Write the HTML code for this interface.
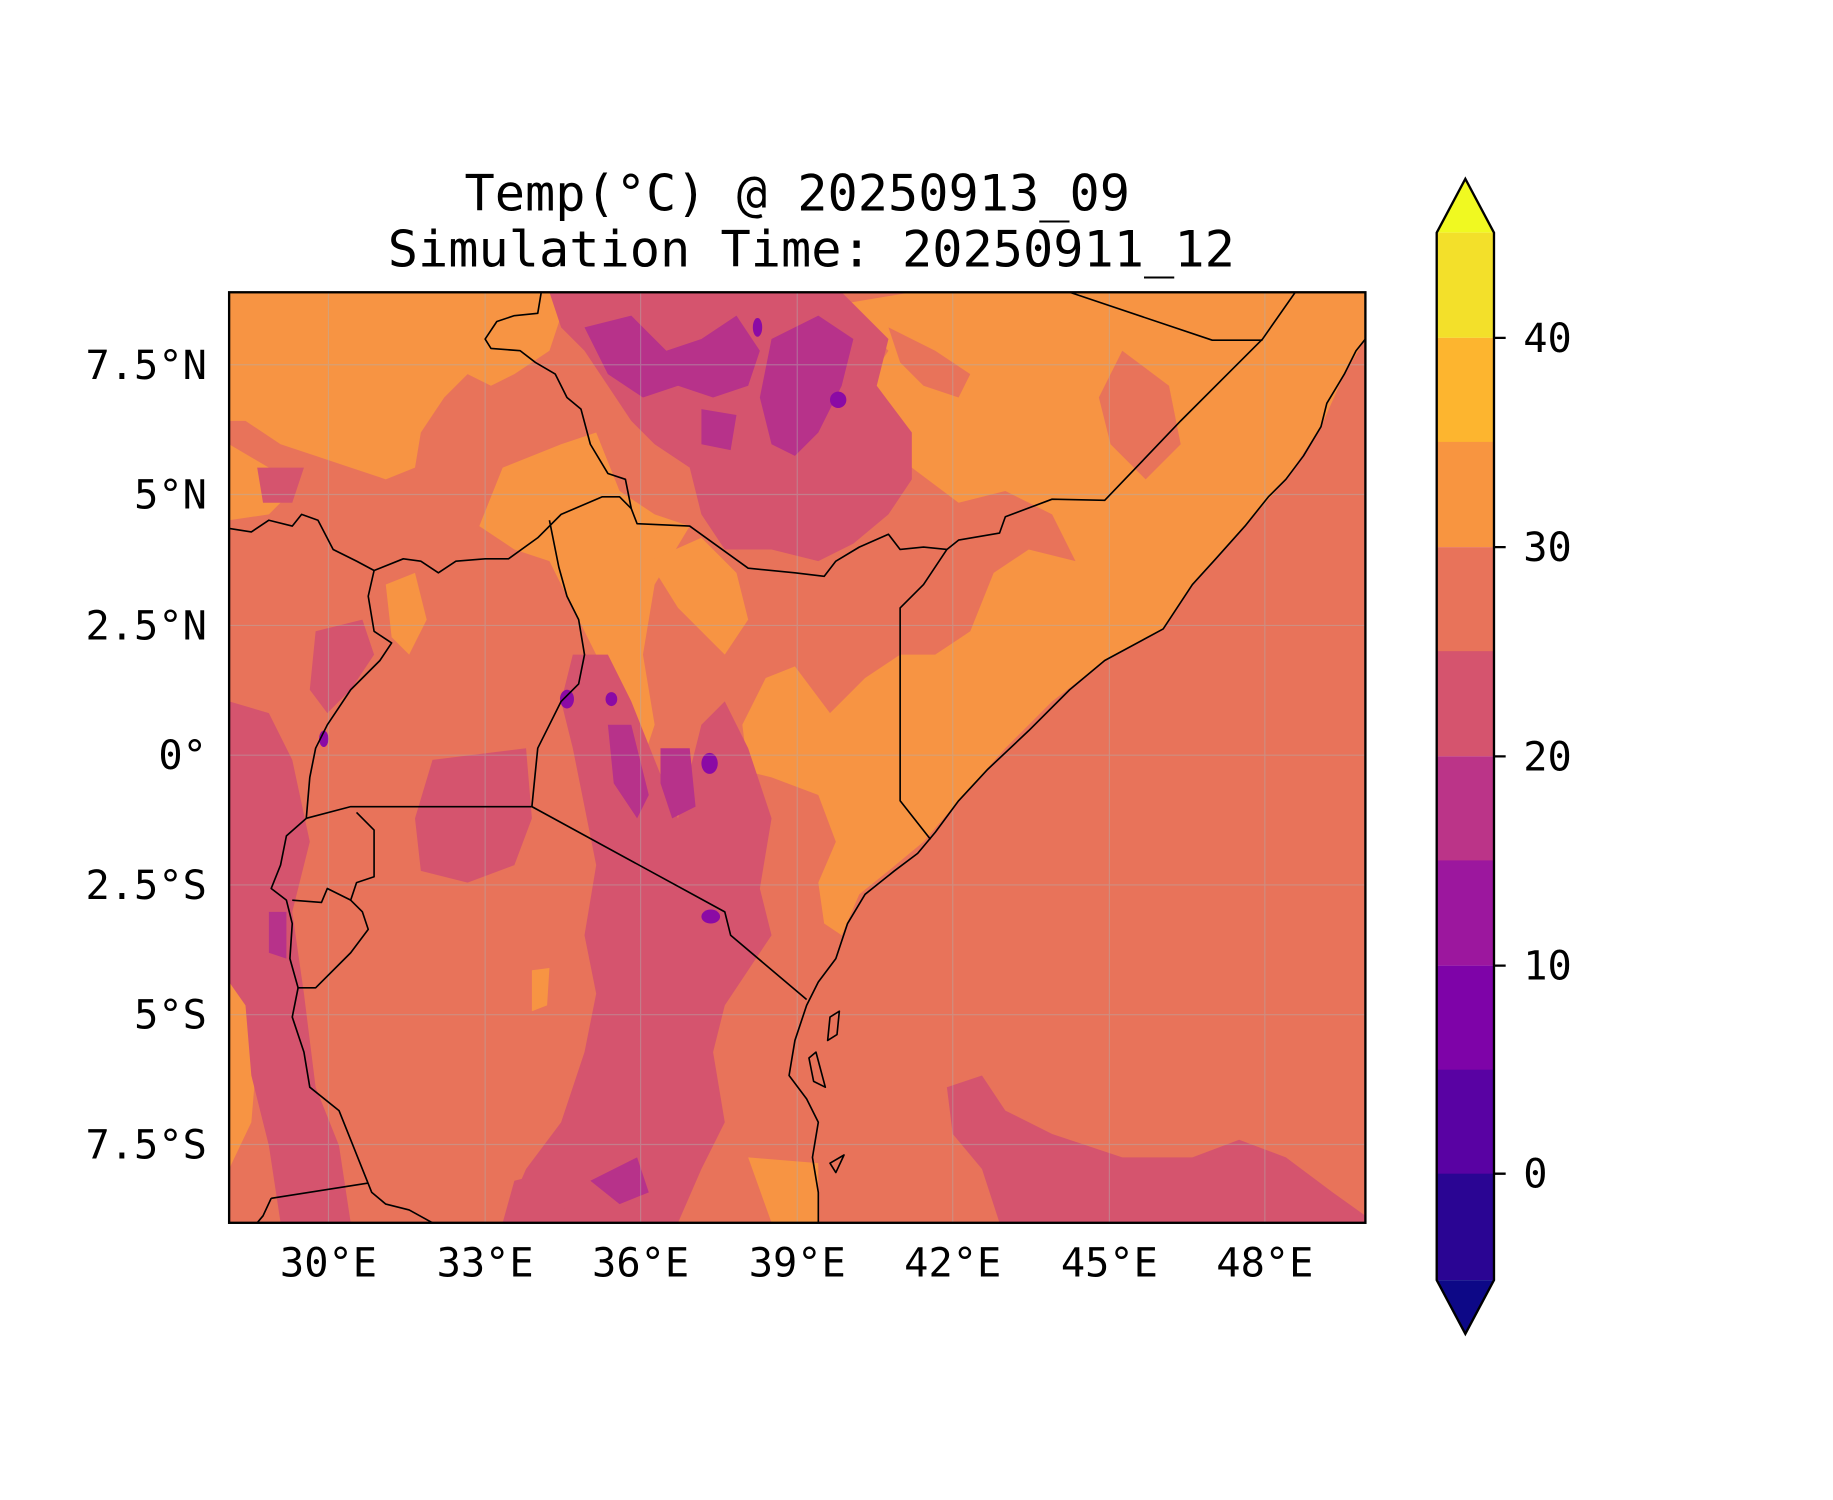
<!DOCTYPE html>
<html><head><meta charset="utf-8"><style>html,body{margin:0;padding:0;background:#fff}svg{display:block}</style></head>
<body>
<svg width="1833" height="1500" viewBox="0 0 1568 1283.1" xmlns="http://www.w3.org/2000/svg" font-family="'DejaVu Sans Mono','Liberation Mono',monospace">
<defs><clipPath id="c"><rect x="196" y="250" width="972" height="796"/></clipPath></defs>
<g clip-path="url(#c)">
<rect x="196" y="250" width="972" height="796" fill="#e8735a"/>
<!-- orange 30-35 -->
<g fill="#f79443">
<path d="M196 250 L500 250 L480 270 L470 300 L440 320 L420 330 L400 320 L380 340 L360 370 L355 400 L330 410 L300 400 L270 390 L240 380 L210 360 L196 360Z"/>
<path d="M196 380 L230 400 L250 420 L230 440 L196 445Z"/>
<path d="M430 400 L480 380 L510 370 L530 420 L560 440 L590 450 L560 500 L550 560 L560 620 L550 650 L530 620 L510 560 L490 520 L470 480 L440 470 L410 450Z"/>
<path d="M330 500 L355 490 L365 530 L350 560 L335 545Z"/>
<path d="M555 480 L600 460 L630 490 L640 530 L620 560 L600 540 L580 520Z"/>
<path d="M720 260 L780 250 L1168 250 L1168 290 L1150 320 L1130 365 L1100 410 L1065 450 L1020 500 L995 538 L945 565 L900 600 L860 640 L820 685 L790 720 L760 745 L735 765 L720 800 L705 790 L700 755 L715 720 L700 680 L660 665 L640 660 L635 620 L655 580 L680 570 L710 610 L740 580 L770 560 L800 560 L830 540 L850 490 L880 470 L920 480 L900 440 L860 420 L820 430 L780 400 L760 360 L740 330 L760 300Z"/>
<path d="M760 280 L800 300 L830 320 L820 340 L790 330 L770 310Z" fill="#e8735a"/>
<path d="M960 300 L1000 330 L1010 380 L980 410 L950 380 L940 340Z" fill="#e8735a"/>
<path d="M196 820 L215 840 L220 900 L215 960 L196 1000Z"/>
<path d="M640 990 L700 995 L700 1046 L660 1046Z"/>
<path d="M455 830 L470 828 L468 860 L455 865Z"/>
</g>
<!-- pink 20-25 -->
<g fill="#d5546e">
<path d="M470 250 L720 250 L760 290 L750 330 L780 370 L780 410 L760 440 L730 465 L700 480 L660 470 L620 470 L600 440 L590 400 L560 380 L540 360 L520 330 L500 300 L480 280Z"/>
<path d="M490 560 L520 560 L540 600 L560 650 L580 700 L600 620 L620 600 L640 640 L660 700 L650 760 L660 800 L640 830 L620 860 L610 900 L620 960 L600 1000 L580 1046 L430 1046 L450 1000 L480 960 L500 900 L510 850 L500 800 L510 740 L500 690 L490 640 L480 600Z"/>
<path d="M370 650 L450 640 L455 700 L440 740 L400 755 L360 745 L355 700Z"/>
<path d="M196 600 L230 610 L250 650 L265 720 L250 780 L260 850 L270 930 L290 980 L300 1046 L240 1046 L230 980 L215 920 L210 860 L196 840Z"/>
<path d="M270 540 L310 530 L320 560 L300 590 L280 610 L265 590Z"/>
<path d="M810 930 L840 920 L860 950 L900 970 L960 990 L1020 990 L1060 975 L1100 990 L1140 1020 L1168 1040 L1168 1046 L855 1046 L840 1000 L815 970Z"/>
<path d="M440 1010 L480 1000 L490 1030 L460 1046 L430 1046Z"/>
<path d="M220 400 L260 400 L250 430 L225 430Z"/>
</g>
<!-- magenta 15-20 -->
<g fill="#b7328a">
<path d="M500 280 L540 270 L570 300 L600 290 L630 270 L650 300 L640 330 L610 340 L580 330 L550 340 L520 320Z"/>
<path d="M660 290 L700 270 L730 290 L720 330 L700 370 L680 390 L660 380 L650 340Z"/>
<path d="M520 620 L540 620 L555 680 L545 700 L525 670Z"/>
<path d="M565 640 L590 640 L595 690 L575 700 L565 670Z"/>
<path d="M230 780 L245 780 L245 820 L230 815Z"/>
<path d="M505 1010 L545 990 L555 1020 L530 1030Z"/>
<path d="M600 350 L630 355 L625 385 L600 380Z"/>
</g>
<g fill="#8b0aa5">
<ellipse cx="607" cy="653" rx="7" ry="9"/><ellipse cx="485" cy="598" rx="6" ry="8"/><ellipse cx="608" cy="784" rx="8" ry="6"/><ellipse cx="717" cy="342" rx="7" ry="7"/><ellipse cx="277" cy="632" rx="4" ry="7"/><ellipse cx="523" cy="598" rx="5" ry="6"/><ellipse cx="648" cy="280" rx="4" ry="8"/>
</g>
<!-- grid -->
<g stroke="#b0b0b0" stroke-opacity="0.45" stroke-width="1">
<path d="M281 250V1046M415 250V1046M548 250V1046M682 250V1046M815 250V1046M949 250V1046M1082 250V1046M196 312H1168M196 423H1168M196 535H1168M196 646H1168M196 757H1168M196 868H1168M196 979H1168"/>
</g>
<!-- borders -->
<g fill="none" stroke="#000" stroke-width="1.4" stroke-linejoin="round">
<path d="M1168 290 L1160 300 L1150 320 L1135 345 L1130 365 L1115 390 L1100 410 L1085 425 L1065 450 L1040 478 L1020 500 L995 538 L945 565 L915 590 L880 625 L845 658 L820 685 L800 712 L785 730 L765 745 L740 765 L725 790 L715 820 L700 840 L690 860 L680 890 L675 920 L690 940 L700 960 L695 990 L700 1020 L700 1046"/>
<path d="M796 718 L770 685 L770 520 L790 500 L810 470 L820 462 L855 456 L860 442 L900 427 L945 428 L1010 360 L1080 290 L1108 250"/>
<path d="M915 250 L1037 291 L1080 291"/>
<path d="M810 470 L790 468 L770 470 L760 457 L735 468 L715 480 L705 493 L680 490 L640 486 L590 450 L545 448 L540 435 L530 425 L515 425 L480 440 L460 460 L435 478 L415 478 L390 480 L375 490 L360 480 L345 478 L320 488 L305 480 L285 470 L272 445 L258 440 L250 450 L230 445 L215 455 L196 452"/>
<path d="M540 435 L535 410 L520 405 L505 380 L497 350 L485 340 L475 320 L458 310 L445 300 L420 298 L415 290 L425 275 L440 270 L460 268 L463 250"/>
<path d="M470 445 L478 485 L485 510 L495 530 L500 560 L495 585 L480 600 L470 620 L460 640 L455 690"/>
<path d="M455 690 L300 690 L262 700"/>
<path d="M455 690 L620 780 L625 800 L690 855"/>
<path d="M320 488 L315 510 L320 540 L335 550 L325 565 L300 590 L290 605 L280 620 L270 640 L265 665 L262 700"/>
<path d="M262 700 L245 715 L240 740 L232 760 L245 770 L250 790 L248 820 L255 845 L270 845 L300 815 L315 795 L310 780 L300 770 L305 755 L320 750 L320 710 L305 695"/>
<path d="M250 770 L275 772 L280 760 L300 770"/>
<path d="M255 845 L250 870 L260 900 L265 930 L290 950 L300 975 L310 1000 L318 1020 L330 1030 L350 1035 L370 1046"/>
<path d="M232 1025 L315 1012 M232 1025 L225 1040 L220 1046"/>
<path d="M710 870 L718 865 L716 885 L708 890Z M692 905 L698 900 L706 930 L696 925Z M710 995 L722 988 L715 1003Z"/>
</g>
</g>
<rect x="196" y="250" width="972" height="796" fill="none" stroke="#000" stroke-width="2"/>
<!-- title -->
<g font-size="43" text-anchor="middle" fill="#000">
<text x="682" y="180">Temp(°C) @ 20250913_09</text>
<text x="694" y="228">Simulation Time: 20250911_12</text>
</g>
<!-- y labels -->
<g font-size="34.5" text-anchor="end" fill="#000">
<text x="177" y="324">7.5°N</text><text x="177" y="435">5°N</text><text x="177" y="547">2.5°N</text><text x="177" y="658">0°</text><text x="177" y="769">2.5°S</text><text x="177" y="880">5°S</text><text x="177" y="991">7.5°S</text>
</g>
<g font-size="34.5" text-anchor="middle" fill="#000">
<text x="281" y="1092">30°E</text><text x="415" y="1092">33°E</text><text x="548" y="1092">36°E</text><text x="682" y="1092">39°E</text><text x="815" y="1092">42°E</text><text x="949" y="1092">45°E</text><text x="1082" y="1092">48°E</text>
</g>
<!-- colorbar -->
<g>
<path d="M1229 199 L1253.5 153 L1278 199Z" fill="#f0f921"/>
<rect x="1229" y="199" width="49" height="90" fill="#f3e02a"/>
<rect x="1229" y="289" width="49" height="90" fill="#fdb52f"/>
<rect x="1229" y="378" width="49" height="90" fill="#f89540"/>
<rect x="1229" y="468" width="49" height="90" fill="#e8735a"/>
<rect x="1229" y="557" width="49" height="90" fill="#d5546e"/>
<rect x="1229" y="647" width="49" height="90" fill="#bb3488"/>
<rect x="1229" y="736" width="49" height="90" fill="#9c179e"/>
<rect x="1229" y="826" width="49" height="90" fill="#7e03a8"/>
<rect x="1229" y="915" width="49" height="90" fill="#5902a3"/>
<rect x="1229" y="1004" width="49" height="91" fill="#2a0593"/>
<path d="M1229 1095 L1253.5 1141 L1278 1095Z" fill="#0d0887"/>
<path d="M1229 199 L1253.5 153 L1278 199 L1278 1095 L1253.5 1141 L1229 1095Z" fill="none" stroke="#000" stroke-width="2"/>
<g stroke="#000" stroke-width="2"><path d="M1278 289h10M1278 468h10M1278 647h10M1278 826h10M1278 1004h10"/></g>
<g font-size="34.5" fill="#000">
<text x="1303" y="301">40</text><text x="1303" y="480">30</text><text x="1303" y="659">20</text><text x="1303" y="838">10</text><text x="1303" y="1016">0</text>
</g>
</g>
</svg>
</body></html>
